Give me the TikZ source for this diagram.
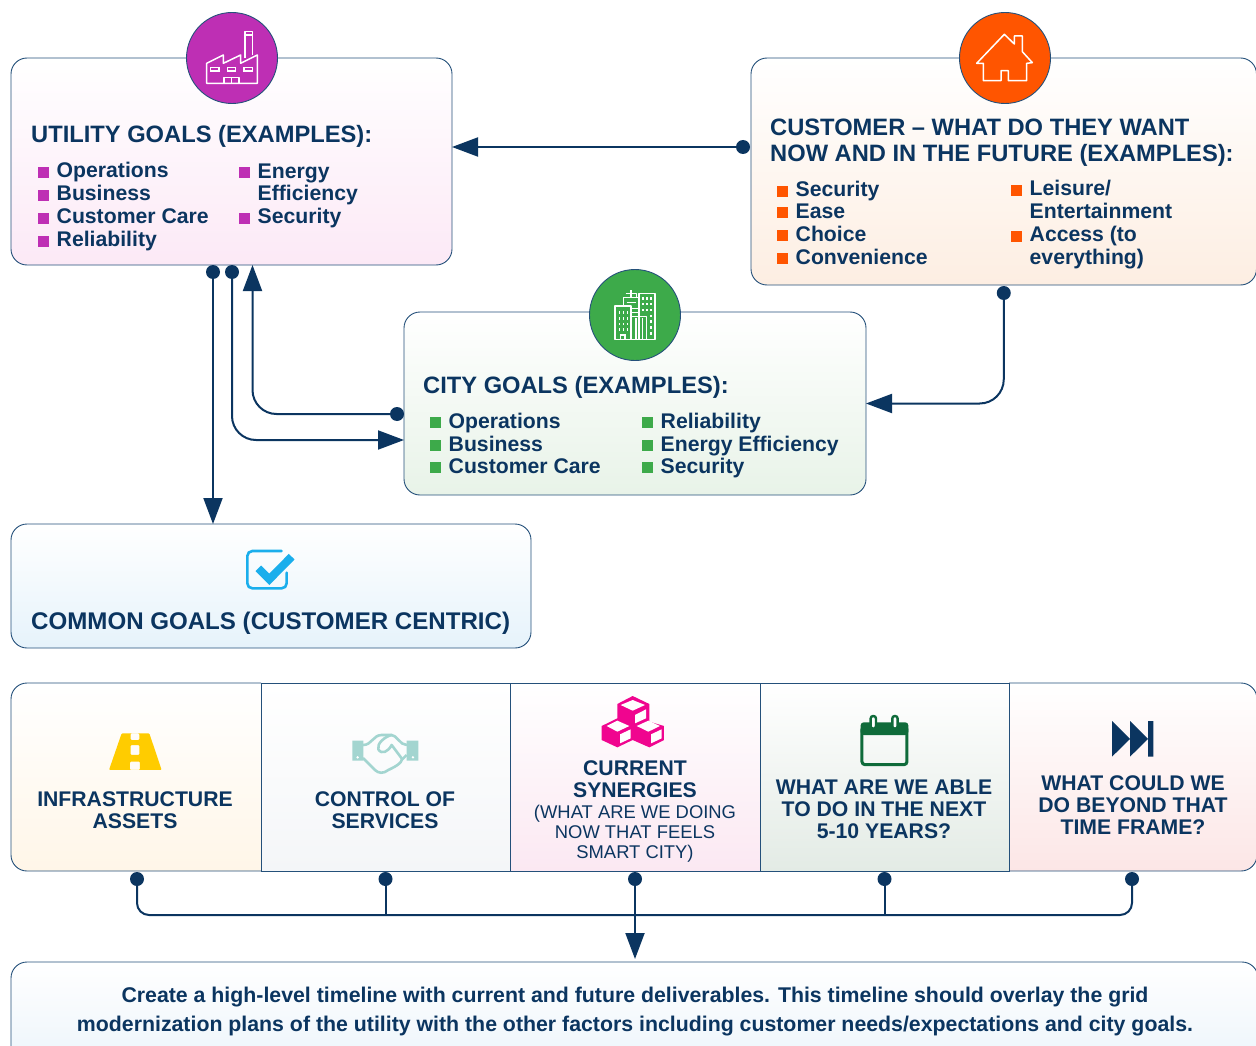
\documentclass[tikz,border=0pt]{standalone}
\usepackage{fontspec}
\setmainfont{Liberation Sans}
\usetikzlibrary{arrows.meta,calc}
\definecolor{navy}{HTML}{0B3560}
\definecolor{bord}{HTML}{24507A}
\definecolor{cUtil}{HTML}{BE2FB4}
\definecolor{cCust}{HTML}{FF5500}
\definecolor{cCity}{HTML}{3DAA4A}
\definecolor{cRoad}{HTML}{FFCC00}
\definecolor{cHand}{HTML}{A3D5D0}
\definecolor{cCube}{HTML}{F0058F}
\definecolor{cCal}{HTML}{0F6B3A}
\definecolor{cChk}{HTML}{1AAEEC}
\newcommand\bul[2]{\makebox[18.5pt][l]{\textcolor{#1}{\rule{11pt}{11pt}}}#2}
\newcommand\cont{\hspace*{18.5pt}}
\tikzset{
  panel/.style={draw=bord,line width=.9pt,rounded corners=16pt,inner sep=0,outer sep=0},
  badge/.style={circle,draw=bord,line width=.9pt,minimum size=91pt,inner sep=0},
  head/.style={text=navy,font=\fontsize{23.7}{25}\selectfont\bfseries,anchor=base west,align=left,inner sep=0},
  entry/.style={text=navy,font=\fontsize{21.2}{22.5}\selectfont\bfseries,anchor=base west,align=left,inner sep=0},
  celltxt/.style={text=navy,font=\fontsize{21.2}{22}\selectfont\bfseries,align=center,inner sep=0,anchor=base},
  cellsub/.style={text=navy,font=\fontsize{18.4}{20}\selectfont,align=center,inner sep=0,anchor=base},
  dotm/.style={circle,fill=navy,minimum size=14pt,inner sep=0,outer sep=0},
  conn/.style={draw=navy,line width=2pt},
  arr/.style={conn,-{Triangle[length=26pt,width=19pt]}},
  cellbox/.style={minimum width=#1,minimum height=188pt,inner sep=0,outer sep=0},
  ic/.style={draw=white,line width=1.5pt,line join=round},
  icn/.style={draw=white,line width=1.2pt},
}
\begin{document}
\begin{tikzpicture}[x=1pt,y=-1pt]
\useasboundingbox (0,0) rectangle (1256,1046);
\clip (0,0) rectangle (1256,1046);
% panels
\node[panel,top color=white,bottom color={rgb,255:red,252;green,233;blue,246},minimum width=441pt,minimum height=207pt] (util) at (231.5,161.5) {};
\node[panel,top color=white,bottom color={rgb,255:red,253;green,238;blue,226},minimum width=505.5pt,minimum height=227pt] (cust) at (1003.75,171.5) {};
\node[panel,top color=white,bottom color={rgb,255:red,232;green,243;blue,232},minimum width=462pt,minimum height=183pt] (city) at (635,403.5) {};
\node[panel,top color=white,bottom color={rgb,255:red,230;green,243;blue,251},minimum width=520pt,minimum height=124pt] (common) at (271,586) {};
\node[panel,top color=white,bottom color={rgb,255:red,232;green,242;blue,250},minimum width=1247pt,minimum height=130pt] (plan) at (634.5,1027) {};
% badges
\node[badge,fill=cUtil] (bUtil) at (232,58) {};
\node[badge,fill=cCust] (bCust) at (1005,58) {};
\node[badge,fill=cCity] (bCity) at (635,315) {};
% factory
\begin{scope}[shift={(170,0)},x=.3333pt,y=-.3333pt]
\draw[ic] (110,250) -- (110,190) -- (160,165) -- (160,190) -- (212,165) -- (212,190) -- (262,165) -- (262,250) -- cycle;
\draw[ic] (225,175) -- (225,95) -- (247,95) -- (247,165) (225,105) -- (247,105);
\draw[icn] (122,203) rectangle (147,213) (172,203) rectangle (197,213) (222,203) rectangle (247,213);
\draw[ic] (162,250) -- (162,232) -- (207,232) -- (207,250) (185,232) -- (185,250);
\end{scope}
% house
\begin{scope}[shift={(945,0)},x=.3333pt,y=-.3333pt]
\draw[ic] (95,190) -- (178,103) -- (208,132) -- (208,108) -- (232,108) -- (232,155) -- (262,188) -- (245,190) -- (245,242) -- (190,242) -- (190,212) -- (168,212) -- (168,242) -- (115,242) -- (115,190) -- cycle;
\end{scope}
% city icon
\begin{scope}[shift={(575,260)},x=.3333pt,y=-.3333pt]
\draw[ic] (145,138) -- (145,113) -- (192,113) (168,113) -- (168,90) (152,100) -- (184,100) -- (184,113);
\draw[ic] (120,138) rectangle (168,238);
\draw[ic] (192,100) rectangle (240,238);
\draw[ic] (170,170) rectangle (215,238);
\draw[ic] (183,175) -- (183,238) (193,175) -- (193,238) (203,175) -- (203,238);
\draw[icn] (137,238) -- (137,225) -- (150,225) -- (150,238);
\draw[icn] (155,128) -- (182,128) (168,145) -- (190,145) (168,158) -- (190,158);
\foreach \yy in {157,175,192,208}
  \foreach \xx in {133,145,157} \fill[white] (\xx-2.5,\yy-4) rectangle (\xx+2.5,\yy+4);
\foreach \yy in {115,132,150}
  \foreach \xx in {205,217,228} \fill[white] (\xx-2.5,\yy-4) rectangle (\xx+2.5,\yy+4);
\foreach \yy in {168,185,202,220} \fill[white] (228-2.5,\yy-4) rectangle (228+2.5,\yy+4);
\end{scope}
% titles and lists
\node[head] (tUtil) at (31,142.7) {UTILITY GOALS (EXAMPLES):};
\node[entry] (u1) at (38,178) {\bul{cUtil}{Operations}};
\node[entry] (u2) at (38,200.5) {\bul{cUtil}{Business}};
\node[entry] (u3) at (38,223.5) {\bul{cUtil}{Customer Care}};
\node[entry] (u4) at (38,246.5) {\bul{cUtil}{Reliability}};
\node[entry] (u5) at (239,200.5) {\bul{cUtil}{Energy}\\\cont Efficiency};
\node[entry] (u6) at (239,223.5) {\bul{cUtil}{Security}};
\node[head] (tCust) at (770,161) {CUSTOMER – WHAT DO THEY WANT\\NOW AND IN THE FUTURE (EXAMPLES):};
\node[entry] (c1) at (777,196.7) {\bul{cCust}{Security}};
\node[entry] (c2) at (777,218.5) {\bul{cCust}{Ease}};
\node[entry] (c3) at (777,241) {\bul{cCust}{Choice}};
\node[entry] (c4) at (777,264) {\bul{cCust}{Convenience}};
\node[entry] (c5) at (1011,218.5) {\bul{cCust}{Leisure/}\\\cont Entertainment};
\node[entry] (c6) at (1011,264) {\bul{cCust}{Access (to}\\\cont everything)};
\node[head] (tCity) at (423,393) {CITY GOALS (EXAMPLES):};
\node[entry] (g1) at (430,428) {\bul{cCity}{Operations}};
\node[entry] (g2) at (430,451) {\bul{cCity}{Business}};
\node[entry] (g3) at (430,473) {\bul{cCity}{Customer Care}};
\node[entry] (g4) at (642,428) {\bul{cCity}{Reliability}};
\node[entry] (g5) at (642,451) {\bul{cCity}{Energy Efficiency}};
\node[entry] (g6) at (642,473) {\bul{cCity}{Security}};
\node[head,font=\fontsize{24.1}{25}\selectfont\bfseries] (tCommon) at (31,629) {COMMON GOALS (CUSTOMER CENTRIC)};
% check icon
\begin{scope}[shift={(230,540)},x=.3333pt,y=-.3333pt]
\draw[cChk,line width=2.6pt,line cap=round,rounded corners=5pt] (155,33) -- (52,33) -- (52,145) -- (170,145) -- (170,98);
\draw[cChk,line width=8pt] (85,85) -- (118,118) -- (185,50);
\end{scope}
% band cells
\shade[top color=white,bottom color={rgb,255:red,255;green,246;blue,232}] (261,683) [rounded corners=16pt] -- (11,683) -- (11,871) [sharp corners] -- (261,871) -- cycle;
\draw[bord,line width=.9pt] (261,683) [rounded corners=16pt] -- (11,683) -- (11,871) [sharp corners] -- (261,871);
\shade[top color=white,bottom color={rgb,255:red,252;green,230;blue,230}] (1009,683) [rounded corners=16pt] -- (1257,683) -- (1257,871) [sharp corners] -- (1009,871) -- cycle;
\draw[bord,line width=.9pt] (1009,683) [rounded corners=16pt] -- (1257,683) -- (1257,871) [sharp corners] -- (1009,871);
\node[cellbox=250pt] (cA) at (136,777) {};
\node[cellbox=249pt,draw=bord,line width=.9pt,top color=white,bottom color={rgb,255:red,244;green,246;blue,248}] (cB) at (385.5,777) {};
\node[cellbox=250pt,draw=bord,line width=.9pt,top color=white,bottom color={rgb,255:red,251;green,232;blue,242}] (cC) at (635,777) {};
\node[cellbox=249pt,draw=bord,line width=.9pt,top color=white,bottom color={rgb,255:red,227;green,235;blue,229}] (cD) at (884.5,777) {};
\node[cellbox=248pt] (cE) at (1133,777) {};
% road
\begin{scope}[shift={(90,690)},x=.3333pt,y=-.3333pt]
\fill[cRoad,even odd rule,rounded corners=1pt] (57,240) -- (95,130) -- (178,130) -- (215,240) -- cycle
 (122,130) -- (148,130) -- (148,150) -- (122,150) -- cycle
 (122,165) -- (148,165) -- (148,195) -- (122,195) -- cycle
 (120,215) -- (150,215) -- (150,240) -- (120,240) -- cycle;
\end{scope}
% handshake
\begin{scope}[shift={(90,690)},x=.3333pt,y=-.3333pt]
\fill[cHand] (787,152) rectangle (820,212) (950,152) rectangle (985,212);
\fill[white] (803,202) circle (4) (969,202) circle (4);
\draw[cHand,line width=2.6pt,line join=round,line cap=round] (820,165) .. controls (845,165) and (850,135) .. (875,135) -- (905,135) .. controls (920,135) and (930,165) .. (950,165);
\draw[cHand,line width=2.6pt,line join=round,line cap=round] (905,135) .. controls (885,140) and (860,160) .. (865,178) .. controls (875,195) and (895,185) .. (905,165) -- (935,205) .. controls (940,220) and (905,235) .. (895,240) .. controls (880,252) and (865,250) .. (855,240) -- (820,205);
\draw[cHand,line width=2.6pt] (935,210) -- (950,195);
\end{scope}
% cubes
\begin{scope}[shift={(590,690)},x=.3333pt,y=-.3333pt]
\fill[cCube,line join=round] (128,18) -- (178,42) -- (178,95) -- (222,108) -- (222,150) -- (178,172) -- (128,150) -- (82,172) -- (35,150) -- (35,108) -- (82,85) -- (82,42) -- cycle;
\fill[white] (128,30) -- (165,45) -- (128,62) -- (92,45) -- cycle
 (135,75) -- (168,58) -- (168,85) -- (135,100) -- cycle
 (82,92) -- (118,108) -- (82,125) -- (50,108) -- cycle
 (90,133) -- (122,118) -- (122,145) -- (90,160) -- cycle
 (175,92) -- (210,108) -- (175,125) -- (140,108) -- cycle
 (183,133) -- (215,118) -- (215,145) -- (183,160) -- cycle;
\end{scope}
% calendar
\begin{scope}[shift={(590,690)},x=.3333pt,y=-.3333pt]
\fill[cCal,rounded corners=3pt] (812,97) rectangle (955,135);
\draw[cCal,line width=3pt,rounded corners=3pt] (816,110) rectangle (951,224);
\draw[cCal,line width=2.4pt,fill=white,rounded corners=2.5pt] (842,78) rectangle (858,116) (907,78) rectangle (923,116);
\end{scope}
% skip
\begin{scope}[shift={(1090,700)},x=.3333pt,y=-.3333pt]
\fill[navy] (66,63) -- (120,117) -- (66,170) -- cycle (120,63) -- (174,117) -- (120,170) -- cycle (174,63) rectangle (190,170);
\end{scope}
% band texts
\node[celltxt] (x1) at (135,828) {INFRASTRUCTURE\\ASSETS};
\node[celltxt] (x2) at (385,828) {CONTROL OF\\SERVICES};
\node[celltxt] (x3) at (635,797.5) {CURRENT\\SYNERGIES};
\node[cellsub] (x3b) at (635,858) {(WHAT ARE WE DOING\\NOW THAT FEELS\\SMART CITY)};
\node[celltxt] (x4) at (884,838) {WHAT ARE WE ABLE\\TO DO IN THE NEXT\\5-10 YEARS?};
\node[celltxt] (x5) at (1133,834) {WHAT COULD WE\\DO BEYOND THAT\\TIME FRAME?};
\node[text=navy,font=\fontsize{21.3}{29}\selectfont\bfseries,align=center,inner sep=0,anchor=base] (tPlan) at (635,1031) {Create a high-level timeline with current and future deliverables. This timeline should overlay the grid\\modernization plans of the utility with the other factors including customer needs/expectations and city goals.};
% connector dots
\node[dotm] (dU1) at ([xshift=-18.5pt,yshift=-7pt]util.south) {};
\node[dotm] (dU2) at ([xshift=.5pt,yshift=-7pt]util.south) {};
\node[dotm] (dCw) at ([xshift=-8pt,yshift=24.5pt]cust.west) {};
\node[dotm] (dCs) at ([yshift=-8pt]cust.south) {};
\node[dotm] (dGw) at ([xshift=-7pt,yshift=-10.5pt]city.west) {};
\node[dotm] (b1) at ([yshift=-8pt,xshift=1pt]cA.south) {};
\node[dotm] (b2) at ([yshift=-8pt]cB.south) {};
\node[dotm] (b3) at ([yshift=-8pt]cC.south) {};
\node[dotm] (b4) at ([yshift=-8pt]cD.south) {};
\node[dotm] (b5) at ([yshift=-8pt,xshift=-1pt]cE.south) {};
\coordinate (bus) at (635,915);
% connectors
\draw[arr] (dCw.center) -- ([yshift=14.5pt]util.east);
\draw[arr,rounded corners=24pt] (dCs.center) |- (city.east);
\draw[arr] (dU1.center) -- (dU1.center |- common.north);
\draw[arr,rounded corners=24pt] (dU2.center) |- ([yshift=-36.5pt]city.west);
\draw[arr,rounded corners=24pt] (dGw.center) -| ([xshift=21pt]util.south);
\draw[conn,rounded corners=12pt] (b1.center) |- (bus) -| (b5.center);
\draw[conn] (b2.center) -- (b2.center |- bus);
\draw[conn] (b4.center) -- (b4.center |- bus);
\draw[arr,shorten >=3pt] (b3.center) -- (b3.center |- plan.north);
\end{tikzpicture}
\end{document}
